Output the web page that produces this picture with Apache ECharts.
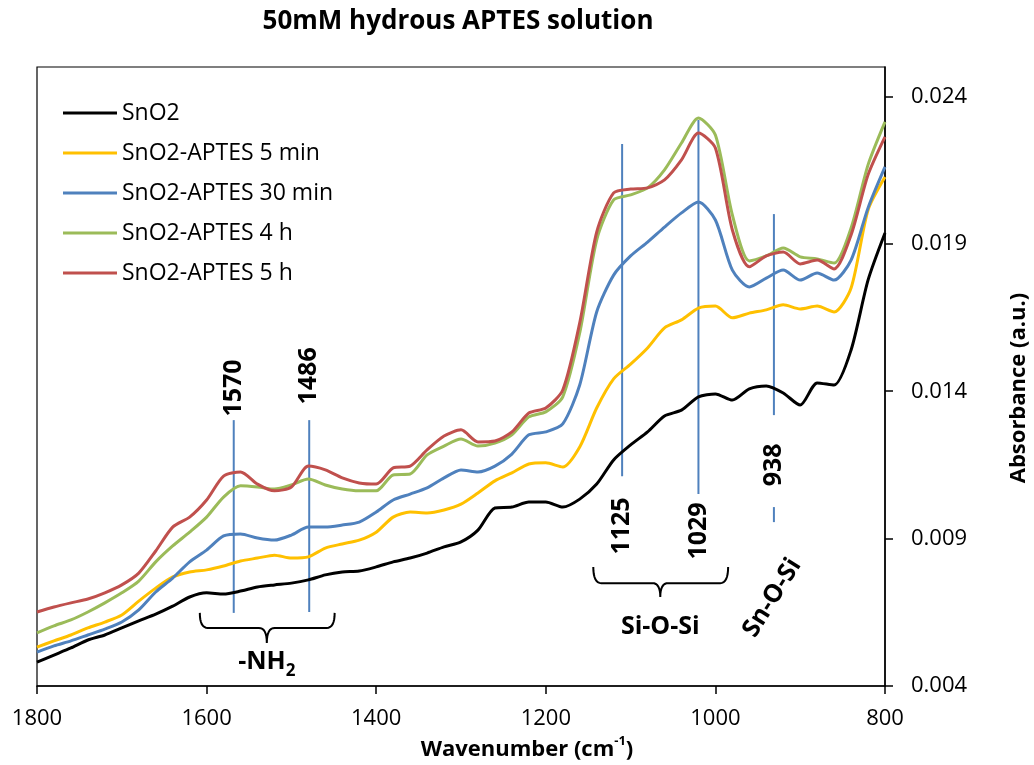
<!DOCTYPE html>
<html>
<head>
<meta charset="utf-8">
<script src="https://cdn.jsdelivr.net/npm/echarts@6/dist/echarts.min.js"></script>
<style>html,body{margin:0;padding:0;background:#fff;overflow:hidden}#c{width:1034px;height:765px}</style>
</head>
<body>
<div id="c"></div>
<script>
// ---- data ----
const wavenumbers = [1800,1780,1760,1740,1720,1700,1680,1660,1640,1620,1600,1580,1560,1540,1520,1500,1480,1460,1440,1420,1400,1380,1360,1340,1320,1300,1280,1260,1240,1220,1200,1180,1160,1140,1120,1100,1080,1060,1040,1020,1000,980,960,940,920,900,880,860,840,820,800];
const seriesNames = ['SnO2','SnO2-APTES 5 min','SnO2-APTES 30 min','SnO2-APTES 4 h','SnO2-APTES 5 h'];
const sno2 = [0.00481,0.00505,0.00529,0.00556,0.00573,0.00597,0.00621,0.00644,0.00671,0.00702,0.00716,0.00712,0.00722,0.00736,0.00743,0.00749,0.00760,0.00777,0.00787,0.00790,0.00804,0.00821,0.00834,0.00851,0.00872,0.00889,0.00929,0.01004,0.01007,0.01024,0.01024,0.01007,0.01034,0.01085,0.01167,0.01218,0.01262,0.01316,0.01336,0.01381,0.01391,0.01370,0.01408,0.01418,0.01394,0.01353,0.01428,0.01421,0.01540,0.01777,0.01937];
const aptes5min = [0.00532,0.00553,0.00573,0.00597,0.00617,0.00641,0.00688,0.00732,0.00770,0.00787,0.00794,0.00807,0.00824,0.00834,0.00844,0.00834,0.00838,0.00868,0.00882,0.00895,0.00922,0.00973,0.00990,0.00987,0.00997,0.01017,0.01055,0.01096,0.01123,0.01153,0.01157,0.01143,0.01211,0.01343,0.01442,0.01492,0.01547,0.01615,0.01642,0.01682,0.01689,0.01649,0.01665,0.01676,0.01693,0.01679,0.01689,0.01669,0.01750,0.02015,0.02127];
const aptes30min = [0.00515,0.00536,0.00553,0.00573,0.00593,0.00617,0.00658,0.00719,0.00766,0.00821,0.00861,0.00909,0.00916,0.00902,0.00895,0.00912,0.00939,0.00939,0.00946,0.00956,0.00990,0.01031,0.01051,0.01072,0.01106,0.01133,0.01126,0.01146,0.01187,0.01252,0.01262,0.01289,0.01421,0.01669,0.01794,0.01859,0.01906,0.01957,0.02005,0.02042,0.01981,0.01811,0.01754,0.01784,0.01811,0.01777,0.01801,0.01777,0.01845,0.02022,0.02161];
const aptes4h = [0.00580,0.00604,0.00624,0.00651,0.00682,0.00716,0.00756,0.00821,0.00875,0.00922,0.00973,0.01041,0.01079,0.01075,0.01068,0.01082,0.01102,0.01082,0.01068,0.01062,0.01062,0.01116,0.01119,0.01184,0.01214,0.01238,0.01214,0.01224,0.01252,0.01313,0.01330,0.01381,0.01598,0.01913,0.02049,0.02066,0.02090,0.02151,0.02242,0.02327,0.02269,0.01998,0.01842,0.01859,0.01886,0.01856,0.01849,0.01835,0.01954,0.02168,0.02314];
const aptes5h = [0.00651,0.00668,0.00682,0.00695,0.00716,0.00743,0.00783,0.00858,0.00939,0.00973,0.01031,0.01112,0.01126,0.01085,0.01062,0.01075,0.01146,0.01133,0.01106,0.01089,0.01085,0.01140,0.01146,0.01201,0.01248,0.01269,0.01228,0.01231,0.01262,0.01326,0.01343,0.01404,0.01632,0.01940,0.02073,0.02086,0.02090,0.02117,0.02185,0.02276,0.02225,0.01947,0.01822,0.01859,0.01872,0.01832,0.01845,0.01815,0.01930,0.02134,0.02263];
const seriesColors = ['#000000','#FFC000','#4F81BD','#9BBB59','#C0504D'];
const xTicks = [800, 1800, 200];          // min, max, interval
const yTicks = [0.004, 0.025, 0.005];     // min, max, interval

// ---- annotations (wavenumber, absorbance) ----
const peakLabels = ['1570','1486','1125','1029','938'];
const peakLineWn = [1568,1479,1110,1020,931];
const peakLineTop = [0.01302,0.01302,0.02239,0.02320,0.02001];
const peakLineBottom = [0.00648,0.00651,0.01112,0.01051,0.01319];
const peakLabelAbs = [0.01411,0.01452,0.00943,0.00926,0.01150];
const groupLabels = ['-NH', 'Si-O-Si', 'Sn-O-Si'];

const FONT = '"Open Sans", "Liberation Sans", sans-serif';
const chart = echarts.init(document.getElementById('c'), null, {renderer: 'canvas', width: 1034, height: 765});
const allSeries = [sno2, aptes5min, aptes30min, aptes4h, aptes5h];

chart.setOption({
  animation: false,
  backgroundColor: '#fff',
  textStyle: {fontFamily: FONT},
  grid: {left: 37, right: 149, top: 67, bottom: 79, show: true, borderColor: '#000', borderWidth: 1.2,
         containLabel: false, outerBoundsMode: 'none'},
  legend: {
    orient: 'vertical', left: 63, top: 101, padding: 0,
    icon: 'rect', itemWidth: 54, itemHeight: 3, itemGap: 16,
    textStyle: {fontSize: 23, color: '#000', fontFamily: FONT, lineHeight: 24},
    data: seriesNames
  },
  xAxis: {
    type: 'value', inverse: true, min: xTicks[0], max: xTicks[1], interval: xTicks[2],
    splitLine: {show: false},
    axisLine: {lineStyle: {color: '#000', width: 1.5}, onZero: false},
    axisTick: {length: 8, lineStyle: {color: '#000', width: 1.5}},
    axisLabel: {fontSize: 22, color: '#000', margin: 22, fontFamily: FONT, formatter: v => String(v)}
  },
  yAxis: {
    type: 'value', position: 'right', min: yTicks[0], max: yTicks[1], interval: yTicks[2],
    splitLine: {show: false},
    axisLine: {show: true, lineStyle: {color: '#000', width: 1.5}, onZero: false},
    axisTick: {show: true, length: 8, lineStyle: {color: '#000', width: 1.5}},
    axisLabel: {fontSize: 22, color: '#000', margin: 26, fontFamily: FONT, showMaxLabel: false,
      formatter: v => v.toFixed(3)}
  },
  series: allSeries.map((arr, i) => ({
    name: seriesNames[i], type: 'line', showSymbol: false, symbol: 'none',
    smooth: 0.25,
    lineStyle: {color: seriesColors[i], width: 3},
    itemStyle: {color: seriesColors[i]},
    data: wavenumbers.map((w, j) => [w, arr[j]])
  }))
});

const px = (w, v) => chart.convertToPixel({xAxisIndex: 0, yAxisIndex: 0}, [w, v]);
const g = [];
const BLUE = '#4F81BD';
const boldFont = s => 'bold ' + s + 'px ' + FONT;

// title
g.push({type: 'text', x: 458, y: 22, style: {text: '50mM hydrous APTES solution', font: boldFont(26), fill: '#000', align: 'center', verticalAlign: 'middle'}});
// x axis name with superscript
g.push({type: 'text', x: 527, y: 750, style: {
  text: '{a|Wavenumber (cm}{s|-1}{a|)}', align: 'center', verticalAlign: 'middle',
  rich: {a: {font: boldFont(22), fill: '#000', lineHeight: 30, verticalAlign: 'middle'},
         s: {font: boldFont(13), fill: '#000', lineHeight: 30, verticalAlign: 'top'}}
}});
// y axis name
g.push({type: 'text', x: 1019, y: 388, rotation: Math.PI / 2, style: {text: 'Absorbance (a.u.)', font: boldFont(22), fill: '#000', align: 'center', verticalAlign: 'middle'}});

// peak lines and labels
peakLabels.forEach((lab, i) => {
  const p1 = px(peakLineWn[i], peakLineTop[i]);
  const p2 = px(peakLineWn[i], peakLineBottom[i]);
  g.push({type: 'line', shape: {x1: p1[0], y1: p1[1], x2: p2[0], y2: p2[1]}, style: {stroke: BLUE, lineWidth: 2}});
  const pl = px(peakLineWn[i], peakLabelAbs[i]);
  g.push({type: 'text', x: pl[0], y: pl[1], rotation: Math.PI / 2,
    style: {text: lab, font: boldFont(25), fill: '#000', align: 'center', verticalAlign: 'middle'}});
});
// short dash under 938 label
{
  const a = px(931, 0.01007), b = px(931, 0.00956);
  g.push({type: 'line', shape: {x1: a[0], y1: a[1], x2: b[0], y2: b[1]}, style: {stroke: BLUE, lineWidth: 2}});
}

// braces (curly bracket drawn as a polyline of quadratic corners)
function quad(p0, c, p1, n) {
  const out = [];
  for (let k = 0; k <= n; k++) {
    const t = k / n, u = 1 - t;
    out.push([u * u * p0[0] + 2 * u * t * c[0] + t * t * p1[0], u * u * p0[1] + 2 * u * t * c[1] + t * t * p1[1]]);
  }
  return out;
}
function brace(wl, wr, wc, vTop, vBase, vTip) {
  const l = px(wl, vTop), r = px(wr, vTop), c = px(wc, vBase), t = px(wc, vTip);
  const yB = c[1], r0 = 8;
  let pts = [];
  pts = pts.concat(quad([l[0], l[1]], [l[0], yB], [l[0] + r0, yB], 8));
  pts = pts.concat(quad([c[0] - r0, yB], [c[0], yB], [c[0], t[1]], 8));
  pts = pts.concat(quad([c[0], t[1]], [c[0], yB], [c[0] + r0, yB], 8));
  pts = pts.concat(quad([r[0] - r0, yB], [r[0], yB], [r[0], r[1]], 8));
  return {type: 'polyline', shape: {points: pts}, style: {stroke: '#000', lineWidth: 2, fill: null}};
}
g.push(brace(1608, 1449, 1529, 0.00648, 0.00597, 0.00546));
g.push(brace(1144, 985, 1065, 0.00804, 0.00749, 0.00702));

// group labels
{
  const p = px(1529, 0.00481);
  g.push({type: 'text', x: p[0], y: p[1], style: {
    text: '{a|' + groupLabels[0] + '}{b|2}', align: 'center', verticalAlign: 'middle',
    rich: {a: {font: boldFont(25), fill: '#000', lineHeight: 36, verticalAlign: 'middle'},
           b: {font: boldFont(17), fill: '#000', lineHeight: 20, verticalAlign: 'bottom'}}
  }});
  const q = px(1065, 0.00600);
  g.push({type: 'text', x: q[0], y: q[1], style: {text: groupLabels[1], font: boldFont(25), fill: '#000', align: 'center', verticalAlign: 'middle'}});
  const s = px(933, 0.00699);
  g.push({type: 'text', x: s[0], y: s[1], rotation: 58 * Math.PI / 180, style: {text: groupLabels[2], font: boldFont(25), fill: '#000', align: 'center', verticalAlign: 'middle'}});
}

chart.setOption({graphic: g});
</script>
</body>
</html>
